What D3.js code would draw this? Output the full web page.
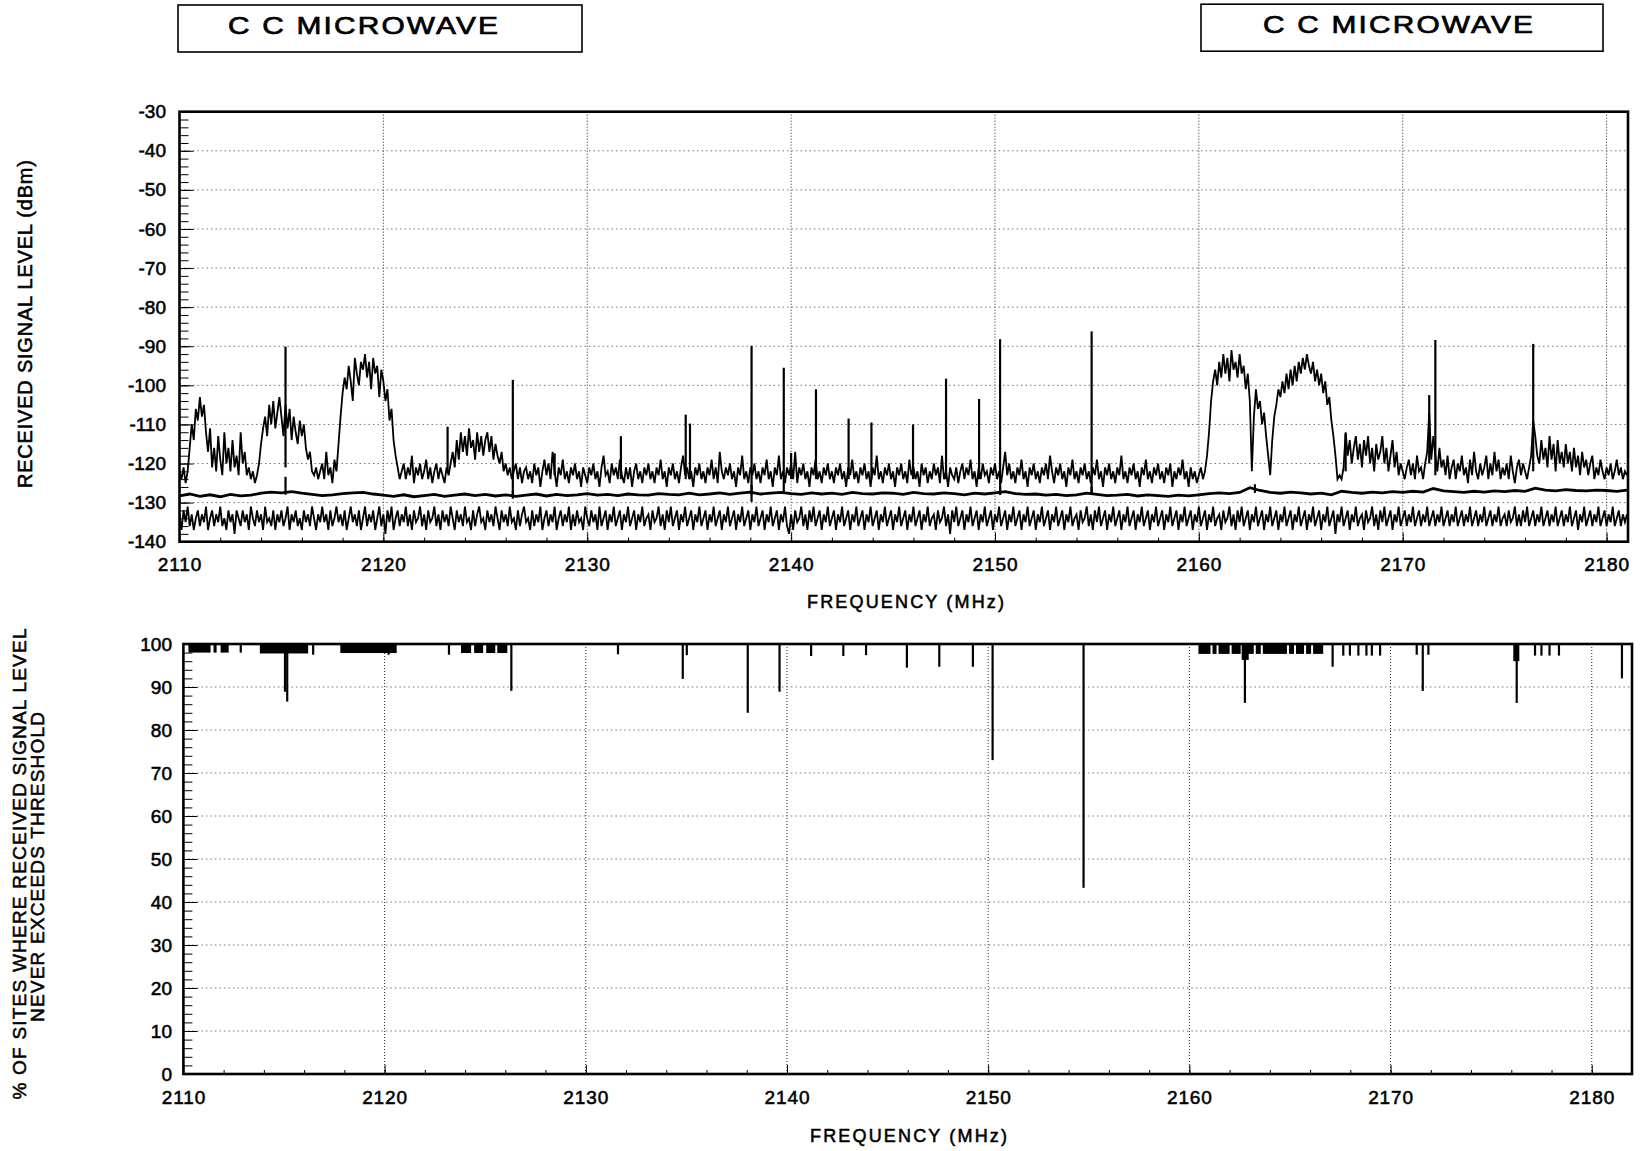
<!DOCTYPE html>
<html><head><meta charset="utf-8">
<script src="https://cdn.jsdelivr.net/npm/d3@7"></script>
<style>
body{margin:0;background:#fff}
svg text{font-family:"Liberation Sans",Arial,Helvetica,sans-serif;fill:#000;stroke:#000;stroke-width:0.55px}
</style></head>
<body><svg id="c" width="1643" height="1151" xmlns="http://www.w3.org/2000/svg"></svg>
<script>
// ---------------- DATA ----------------
const titleText = "C C MICROWAVE";
const freqTicks = [2110,2120,2130,2140,2150,2160,2170,2180];
const dbmTicks = [-30,-40,-50,-60,-70,-80,-90,-100,-110,-120,-130,-140];
const pctTicks = [0,10,20,30,40,50,60,70,80,90,100];

// upper (maximum) trace, dBm, from 2110.0 MHz every 0.1 MHz
const maxStart = 2110, maxStep = 0.1;
const maxTrace = [
-122,-124,-121,-125,-122,-116,-110,-114,-106,-109, // 2110
-103,-108,-105,-112,-117,-111,-121,-116,-122,-113, // 2111
-119,-123,-112,-120,-116,-122,-114,-121,-118,-123, // 2112
-112,-120,-117,-123,-121,-124,-122,-125,-123,-120, // 2113
-115,-111,-108,-113,-105,-110,-104,-111,-107,-103, // 2114
-108,-113,-105,-111,-106,-114,-108,-112,-115,-109, // 2115
-113,-110,-116,-119,-117,-122,-123,-121,-124,-122, // 2116
-120,-124,-117,-123,-121,-125,-119,-122,-115,-108, // 2117
-102,-98,-101,-95,-99,-104,-93,-97,-100,-94,       // 2118
-96,-92,-98,-94,-101,-93,-97,-95,-103,-96,         // 2119
-99,-104,-101,-109,-106,-114,-118,-121,-124,-122,  // 2120
-120,-124,-121,-123,-118,-125,-121,-123,-120,-124, // 2121
-122,-119,-124,-121,-125,-122,-120,-124,-121,-123, // 2122
-125,-121,-123,-120,-117,-121,-114,-119,-112,-117, // 2123
-113,-118,-111,-116,-114,-119,-112,-117,-113,-118, // 2124
-114,-112,-117,-113,-119,-115,-118,-120,-117,-122, // 2125
-120,-123,-121,-124,-122,-120,-124,-121,-125,-122, // 2126
-121,-124,-122,-125,-120,-123,-121,-126,-122,-119, // 2127
-123,-120,-124,-117,-122,-126,-121,-123,-119,-124, // 2128
-122,-125,-121,-123,-120,-124,-122,-126,-121,-123, // 2129
-125,-121,-123,-120,-124,-122,-126,-121,-118,-123, // 2130
-122,-125,-120,-123,-121,-124,-119,-123,-125,-121, // 2131
-124,-121,-126,-122,-120,-124,-122,-125,-121,-123, // 2132
-120,-124,-122,-125,-121,-123,-119,-124,-122,-126, // 2133
-121,-123,-120,-124,-122,-125,-121,-118,-123,-121, // 2134
-124,-122,-126,-121,-123,-120,-124,-122,-125,-121, // 2135
-123,-119,-124,-121,-125,-117,-122,-124,-121,-123, // 2136
-120,-124,-122,-126,-121,-123,-118,-124,-122,-125, // 2137
-121,-123,-120,-124,-122,-125,-121,-123,-119,-124, // 2138
-122,-126,-121,-123,-118,-124,-122,-125,-121,-123, // 2139
-120,-124,-117,-125,-121,-123,-120,-124,-122,-126, // 2140
-121,-123,-119,-124,-122,-125,-121,-123,-120,-124, // 2141
-122,-125,-121,-123,-120,-124,-122,-126,-121,-123, // 2142
-119,-124,-122,-125,-121,-123,-120,-124,-122,-126, // 2143
-121,-123,-118,-124,-122,-125,-121,-123,-120,-124, // 2144
-122,-126,-121,-123,-120,-124,-122,-125,-119,-123, // 2145
-121,-124,-122,-126,-120,-123,-121,-125,-122,-124, // 2146
-120,-123,-121,-125,-118,-124,-122,-126,-121,-123, // 2147
-124,-121,-125,-122,-120,-124,-121,-123,-119,-124, // 2148
-122,-126,-121,-124,-120,-123,-122,-125,-121,-123, // 2149
-120,-124,-122,-125,-121,-117,-123,-120,-124,-122, // 2150
-125,-121,-123,-119,-124,-122,-126,-121,-123,-120, // 2151
-124,-122,-125,-121,-123,-120,-124,-118,-122,-125, // 2152
-121,-123,-120,-124,-122,-126,-121,-123,-119,-124, // 2153
-122,-125,-121,-123,-120,-124,-122,-125,-121,-123, // 2154
-119,-124,-122,-126,-121,-123,-120,-124,-122,-125, // 2155
-121,-123,-118,-124,-122,-125,-121,-123,-120,-124, // 2156
-122,-126,-121,-123,-119,-124,-122,-125,-121,-123, // 2157
-120,-124,-122,-125,-121,-123,-120,-126,-122,-124, // 2158
-121,-123,-119,-124,-122,-126,-121,-124,-122,-125, // 2159
-123,-121,-124,-122,-118,-112,-104,-99,-96,-100,   // 2160
-94,-98,-92,-97,-93,-99,-91,-96,-94,-98,           // 2161
-92,-97,-95,-101,-97,-104,-122,-108,-101,-106,     // 2162
-104,-110,-107,-113,-118,-123,-114,-108,-105,-101, // 2163
-103,-99,-102,-97,-101,-96,-100,-95,-99,-94,       // 2164
-97,-93,-96,-92,-95,-97,-94,-99,-96,-100,          // 2165
-97,-102,-99,-105,-103,-109,-113,-118,-124,-123,   // 2166
-124,-121,-112,-118,-114,-120,-116,-113,-119,-115, // 2167
-121,-114,-118,-113,-120,-116,-122,-115,-119,-117, // 2168
-113,-120,-116,-122,-118,-114,-121,-117,-123,-120, // 2169
-122,-124,-121,-119,-123,-120,-124,-118,-122,-121, // 2170
-124,-120,-117,-107,-119,-113,-118,-122,-116,-121, // 2171
-119,-123,-118,-124,-121,-119,-124,-120,-122,-118, // 2172
-123,-121,-125,-119,-123,-117,-122,-124,-120,-123, // 2173
-121,-118,-124,-120,-123,-117,-122,-119,-124,-121, // 2174
-123,-120,-124,-118,-122,-125,-121,-119,-123,-120, // 2175
-122,-124,-121,-118,-109,-113,-118,-120,-114,-119, // 2176
-116,-121,-113,-119,-115,-122,-114,-120,-117,-121, // 2177
-115,-120,-117,-122,-116,-121,-118,-123,-117,-121, // 2178
-119,-123,-120,-118,-124,-121,-123,-119,-122,-124, // 2179
-121,-123,-120,-124,-122,-119,-123,-121,-124,-122, // 2180
-123                                               // 2181
];
// narrow spikes on the upper trace: [MHz, peak dBm, foot dBm]
const maxSpikes = [
[2115.2,-90.1,-121],[2123.15,-110.6,-122],[2126.35,-98.6,-128.5],[2128.4,-117.4,-123],
[2131.65,-113,-124],[2134.83,-107.5,-124],[2135.04,-109.8,-124],[2138.06,-89.9,-129.8],
[2139.64,-95.5,-127.5],[2140.0,-117.3,-124],[2141.22,-101,-124],[2142.82,-108.5,-124],
[2143.94,-109.5,-124],[2145.98,-110,-124],[2147.6,-98.3,-124],[2149.22,-103.5,-124],
[2150.25,-88.2,-128],[2154.74,-86.2,-127.5],[2167.2,-112.3,-122],[2171.3,-102.5,-120],
[2171.6,-88.4,-123],[2176.4,-89.4,-122]
];

// middle trace, every 0.5 MHz
const midStart = 2110, midStep = 0.5;
const midTrace = [
-128.3,-127.8, -128.4,-128.0, -128.5,-127.9, -128.3,-128.1, -127.6,-127.3, // 2110-2114
-127.5,-127.2, -127.6,-127.9, -128.2,-128.0, -127.7,-127.5, -127.4,-127.8, // 2115-2119
-128.1,-128.4, -128.0,-128.5, -128.2,-127.9, -128.4,-128.1, -127.8,-128.2, // 2120-2124
-127.9,-128.3, -128.0,-128.4, -128.1,-127.8, -128.3,-127.9, -128.2,-128.0, // 2125-2129
-127.7,-128.1, -127.9,-128.2, -127.8,-128.0, -128.1,-127.7, -127.9,-128.0, // 2130-2134
-127.6,-128.0, -127.8,-127.5, -127.9,-127.6, -127.3,-127.8, -127.6,-127.4, // 2135-2139
-127.7,-127.9, -127.5,-127.8, -127.6,-127.9, -127.4,-127.7, -127.8,-127.5, // 2140-2144
-127.6,-127.9, -127.4,-127.7, -127.8,-127.5, -127.7,-128.0, -127.6,-127.8, // 2145-2149
-127.5,-127.2, -127.7,-127.9, -127.8,-128.1, -127.9,-128.2, -128.0,-127.6, // 2150-2154
-127.9,-128.2, -128.1,-127.9, -128.3,-128.0, -128.2,-128.4, -128.1,-128.3, // 2155-2159
-128.0,-127.7, -127.5,-127.7, -127.4,-126.2, -126.9,-127.4, -127.6,-127.3, // 2160-2164
-127.5,-127.8, -127.6,-128.0, -127.1,-127.4, -127.6,-127.3, -127.5,-127.2, // 2165-2169
-127.4,-127.1, -127.3,-126.4, -127.0,-127.2, -127.4,-127.1, -127.3,-127.0, // 2170-2174
-127.2,-126.9, -127.1,-126.3, -126.8,-127.0, -126.7,-126.9, -127.0,-126.8, // 2175-2179
-126.9,-127.1, -126.8                                                     // 2180-2181
];
const midSpikes = [
[2115.2,-123.4,-128],[2126.35,-127,-129],[2138.06,-125.5,-128],[2150.25,-125.8,-128],
[2154.74,-126,-128],[2162.75,-125.3,-127.5]
];

// lower trace, every 0.1 MHz
const minStart = 2110, minStep = 0.1;
const minTrace = [
-133,-137,-132,-135,-131,-136,-133,-137,-134,-132, // 2110
-136,-133,-135,-131,-137,-134,-132,-136,-133,-135, // 2111
-131,-136,-134,-137,-132,-135,-133,-138,-132,-134, // 2112
-136,-132,-135,-133,-137,-131,-134,-136,-132,-135, // 2113
-133,-137,-131,-135,-134,-136,-132,-137,-133,-135, // 2114
-132,-136,-134,-131,-137,-133,-135,-132,-136,-134, // 2115
-137,-132,-135,-133,-136,-131,-134,-137,-133,-135, // 2116
-131,-135,-133,-137,-132,-136,-134,-131,-135,-133, // 2117
-136,-132,-137,-134,-131,-135,-133,-136,-132,-137, // 2118
-134,-131,-136,-133,-135,-132,-137,-134,-131,-136, // 2119
-133,-138,-132,-135,-131,-137,-134,-132,-136,-133, // 2120
-135,-131,-136,-133,-137,-132,-135,-134,-131,-136, // 2121
-133,-137,-132,-135,-134,-131,-136,-133,-137,-132, // 2122
-135,-133,-136,-131,-134,-137,-132,-135,-133,-136, // 2123
-131,-135,-134,-137,-132,-136,-133,-131,-135,-134, // 2124
-137,-132,-135,-133,-136,-131,-134,-137,-132,-135, // 2125
-133,-136,-131,-135,-134,-137,-132,-136,-133,-131, // 2126
-135,-134,-137,-132,-136,-133,-135,-131,-137,-134, // 2127
-132,-136,-133,-135,-131,-137,-134,-132,-136,-133, // 2128
-135,-131,-137,-133,-136,-132,-135,-134,-137,-131, // 2129
-134,-136,-132,-135,-133,-137,-131,-136,-134,-132, // 2130
-137,-133,-135,-131,-136,-134,-132,-137,-133,-135, // 2131
-131,-136,-134,-132,-137,-133,-135,-131,-136,-134, // 2132
-133,-137,-132,-135,-134,-131,-136,-133,-137,-132, // 2133
-135,-131,-136,-134,-132,-137,-133,-135,-131,-136, // 2134
-134,-132,-137,-133,-135,-131,-136,-134,-132,-137, // 2135
-133,-135,-131,-136,-134,-132,-137,-133,-135,-131, // 2136
-136,-134,-132,-137,-133,-135,-131,-136,-134,-132, // 2137
-137,-133,-135,-131,-136,-134,-132,-137,-133,-135, // 2138
-131,-136,-134,-132,-137,-133,-135,-131,-136,-138, // 2139
-133,-137,-132,-135,-134,-131,-136,-133,-137,-132, // 2140
-135,-131,-136,-134,-132,-137,-133,-135,-131,-136, // 2141
-134,-132,-137,-133,-135,-131,-136,-134,-132,-137, // 2142
-133,-135,-131,-136,-134,-132,-137,-133,-135,-131, // 2143
-136,-134,-132,-137,-133,-135,-131,-136,-134,-132, // 2144
-137,-133,-135,-131,-136,-134,-132,-137,-133,-135, // 2145
-131,-136,-134,-132,-137,-133,-135,-131,-136,-134, // 2146
-133,-137,-132,-135,-134,-131,-136,-133,-138,-132, // 2147
-135,-131,-136,-134,-132,-137,-133,-135,-131,-136, // 2148
-134,-132,-137,-133,-135,-131,-136,-134,-132,-137, // 2149
-133,-135,-131,-136,-134,-132,-137,-133,-135,-131, // 2150
-136,-134,-132,-137,-133,-135,-131,-136,-134,-132, // 2151
-137,-133,-135,-131,-136,-134,-132,-137,-133,-135, // 2152
-131,-136,-134,-132,-137,-133,-135,-131,-136,-134, // 2153
-133,-137,-132,-135,-134,-131,-136,-133,-137,-132, // 2154
-135,-131,-136,-134,-132,-137,-133,-135,-131,-136, // 2155
-134,-132,-137,-133,-135,-131,-136,-134,-132,-137, // 2156
-133,-135,-131,-136,-134,-132,-137,-133,-135,-131, // 2157
-136,-134,-132,-137,-133,-135,-131,-136,-134,-132, // 2158
-137,-133,-135,-131,-136,-134,-132,-137,-133,-135, // 2159
-131,-136,-134,-132,-137,-133,-135,-131,-136,-134, // 2160
-133,-137,-132,-135,-134,-131,-136,-133,-137,-132, // 2161
-135,-131,-136,-134,-132,-137,-133,-135,-131,-136, // 2162
-134,-132,-137,-133,-135,-131,-136,-134,-132,-137, // 2163
-133,-135,-131,-136,-134,-132,-137,-133,-135,-131, // 2164
-136,-134,-132,-137,-133,-135,-131,-136,-134,-132, // 2165
-137,-133,-135,-131,-136,-134,-132,-138,-133,-135, // 2166
-131,-136,-134,-132,-137,-133,-135,-131,-136,-134, // 2167
-133,-137,-132,-135,-134,-131,-136,-133,-137,-132, // 2168
-135,-131,-136,-134,-132,-137,-133,-135,-131,-136, // 2169
-134,-132,-136,-133,-135,-131,-136,-134,-132,-136, // 2170
-133,-135,-131,-136,-134,-132,-136,-133,-135,-131, // 2171
-136,-134,-132,-136,-133,-135,-131,-136,-134,-132, // 2172
-136,-133,-135,-131,-136,-134,-132,-136,-133,-135, // 2173
-131,-136,-134,-132,-136,-133,-135,-131,-136,-134, // 2174
-133,-136,-132,-135,-134,-131,-136,-133,-136,-132, // 2175
-135,-131,-136,-134,-132,-136,-133,-135,-131,-136, // 2176
-134,-132,-136,-133,-135,-131,-136,-134,-132,-136, // 2177
-133,-135,-131,-136,-134,-132,-137,-133,-135,-131, // 2178
-136,-134,-132,-136,-133,-135,-131,-136,-134,-132, // 2179
-136,-133,-135,-131,-136,-134,-132,-136,-133,-135, // 2180
-133                                               // 2181
];

// lower chart: % of sites never exceeding threshold
// dense clusters: [from MHz, to MHz, %]
const pctBlocks = [
[2110.25,2111.35,98],[2111.5,2111.65,98],[2111.85,2112.25,98],
[2113.8,2116.2,97.8],[2117.8,2120.6,97.9],
[2123.8,2124.3,97.9],[2124.45,2124.9,97.9],[2125.05,2125.5,97.9],[2125.6,2126.1,97.9],
[2160.45,2161.05,97.7],[2161.15,2161.35,97.7],[2161.45,2162.0,97.7],[2162.1,2162.55,97.7],
[2162.65,2163.2,97.7],[2163.3,2163.55,97.7],[2163.65,2164.85,97.7],[2164.95,2165.2,97.7],
[2165.3,2165.7,97.7],[2165.8,2166.05,97.7],[2166.15,2166.65,97.7],
[2162.6,2162.95,96.3],[2176.1,2176.4,96]
];
// single lines: [MHz, %]
const pctBars = [
[2112.85,98],[2115.05,88.9],[2115.16,86.6],[2116.45,97.5],[2120.2,97.5],[2123.2,97.5],
[2126.3,89.1],[2131.6,97.6],[2134.82,91.9],[2135.02,97.4],[2138.05,84],[2139.63,88.9],
[2141.2,97.2],[2142.8,97.2],[2143.93,97.4],[2145.96,94.5],[2147.57,94.7],[2149.24,94.7],
[2150.22,73],[2154.74,43.3],[2162.76,86.3],[2167.12,94.7],[2167.65,97.3],[2167.98,97.3],
[2168.4,97.3],[2168.8,97.3],[2169.07,97.3],[2169.48,97.3],[2171.3,97.5],[2171.6,89.1],
[2171.88,97.5],[2176.27,86.3],[2177.18,97.3],[2177.5,97.3],[2177.9,97.3],[2178.37,97.3],
[2181.5,92]
];

// ---------------- DRAWING ----------------
const svg = d3.select("#c");
const xTop = d3.scaleLinear([2110, 2181.05], [179.5, 1628]);
const yTop = d3.scaleLinear([-140, -30], [541.7, 111.7]);
const xBot = d3.scaleLinear([2110, 2182], [183.4, 1632]);
const yBot = d3.scaleLinear([0, 100], [1074, 644]);

const pts = (arr, start, step) => arr.map((v, i) => [start + i * step, v]);

// title boxes
[[178, 5, 404, 47, 228, 34], [1201, 4.2, 402, 47, 1263, 33.3]].forEach(([bx, by, bw, bh, tx, ty]) => {
  svg.append("rect").attr("x", bx).attr("y", by).attr("width", bw).attr("height", bh)
    .attr("fill", "none").attr("stroke", "#000").attr("stroke-width", 1.6);
  svg.append("text").attr("transform", `translate(${tx},${ty}) scale(1.22,1)`)
    .attr("textLength", 270 / 1.22).attr("lengthAdjust", "spacing")
    .style("font-size", "24.5px").style("stroke-width", "0.7px").text(titleText);
});

function frame(x, y, xDom, yTicks, yMinor) {
  const x0 = x.range()[0], x1 = x.range()[1], y0 = y.range()[1], y1 = y.range()[0];
  const g = svg.append("g");
  g.selectAll("line.vg").data(freqTicks.filter(f => f > 2110)).join("line").attr("class", "vg")
    .attr("x1", d => x(d)).attr("x2", d => x(d)).attr("y1", y0).attr("y2", y1)
    .attr("stroke", "#222").attr("stroke-width", 1).attr("stroke-dasharray", "1 2");
  g.selectAll("line.hg").data(yTicks.slice(1, -1)).join("line").attr("class", "hg")
    .attr("x1", x0).attr("x2", x1).attr("y1", d => y(d)).attr("y2", d => y(d))
    .attr("stroke", "#777").attr("stroke-width", 1).attr("stroke-dasharray", "1.5 3");
  g.append("g").attr("transform", `translate(${x0},0)`)
    .call(d3.axisRight(y).tickValues(yMinor).tickSize(9).tickFormat(""))
    .call(a => a.select(".domain").remove());
  g.append("g").attr("transform", `translate(${x0},0)`)
    .call(d3.axisRight(y).tickValues(yTicks).tickSize(14).tickFormat(""))
    .call(a => a.select(".domain").remove());
  g.append("g").attr("transform", `translate(0,${y1})`)
    .call(d3.axisTop(x).tickValues(d3.range(2112, xDom, 2)).tickSize(4).tickFormat(""))
    .call(a => a.select(".domain").remove());
  g.append("g").attr("transform", `translate(0,${y1})`)
    .call(d3.axisTop(x).tickValues(freqTicks).tickSize(9).tickFormat(""))
    .call(a => a.select(".domain").remove());
}
frame(xTop, yTop, 2181, dbmTicks.slice().reverse(), d3.range(-138, -30, 2));
frame(xBot, yBot, 2182, pctTicks, d3.range(2, 100, 2));

svg.append("clipPath").attr("id", "clipTop").append("rect")
  .attr("x", xTop.range()[0]).attr("y", yTop.range()[1])
  .attr("width", xTop.range()[1] - xTop.range()[0]).attr("height", yTop.range()[0] - yTop.range()[1]);

const lineTop = d3.line().x(d => xTop(d[0])).y(d => yTop(d[1]));
const gTr = svg.append("g").attr("clip-path", "url(#clipTop)");
gTr.append("path").datum(pts(minTrace, minStart, minStep)).attr("d", lineTop)
  .attr("fill", "none").attr("stroke", "#000").attr("stroke-width", 1.8);
gTr.append("path").datum(pts(midTrace, midStart, midStep)).attr("d", lineTop)
  .attr("fill", "none").attr("stroke", "#000").attr("stroke-width", 2.8);
gTr.append("path").datum(pts(maxTrace, maxStart, maxStep)).attr("d", lineTop)
  .attr("fill", "none").attr("stroke", "#000").attr("stroke-width", 1.8);
gTr.selectAll("line.sp").data(maxSpikes.concat(midSpikes)).join("line").attr("class", "sp")
  .attr("x1", d => xTop(d[0])).attr("x2", d => xTop(d[0]))
  .attr("y1", d => yTop(d[1])).attr("y2", d => yTop(d[2]))
  .attr("stroke", "#000").attr("stroke-width", 2.2);

const gB = svg.append("g");
gB.selectAll("rect.blk").data(pctBlocks).join("rect").attr("class", "blk")
  .attr("x", d => xBot(d[0])).attr("width", d => xBot(d[1]) - xBot(d[0]))
  .attr("y", yBot(100)).attr("height", d => yBot(d[2]) - yBot(100)).attr("fill", "#000");
gB.selectAll("line.bar").data(pctBars).join("line").attr("class", "bar")
  .attr("x1", d => xBot(d[0])).attr("x2", d => xBot(d[0]))
  .attr("y1", yBot(100)).attr("y2", d => yBot(d[1]))
  .attr("stroke", "#000").attr("stroke-width", 2.2);

[[xTop, yTop], [xBot, yBot]].forEach(([x, y]) => {
  svg.append("rect").attr("x", x.range()[0]).attr("y", y.range()[1])
    .attr("width", x.range()[1] - x.range()[0]).attr("height", y.range()[0] - y.range()[1])
    .attr("fill", "none").attr("stroke", "#000").attr("stroke-width", 2.6);
});

function labels(sel, size, ls) {
  sel.call(a => a.select(".domain").remove()).attr("font-family", null).attr("font-size", null);
  sel.selectAll("text").style("font-size", size + "px").style("letter-spacing", ls + "px");
  sel.selectAll(".tick line").remove();
}
svg.append("g").attr("transform", `translate(${xTop(2110)},0)`)
  .call(d3.axisLeft(yTop).tickValues(dbmTicks).tickSize(0).tickPadding(13.5).tickFormat(d => String(d)))
  .call(s => labels(s, 19, 0));
svg.append("g").attr("transform", `translate(0,${yTop(-140)})`)
  .call(d3.axisBottom(xTop).tickValues(freqTicks).tickSize(0).tickPadding(15.5).tickFormat(d => String(d)))
  .call(s => labels(s, 19, 0.9));
svg.append("g").attr("transform", `translate(${xBot(2110)},0)`)
  .call(d3.axisLeft(yBot).tickValues(pctTicks).tickSize(0).tickPadding(11.4).tickFormat(d => String(d)))
  .call(s => labels(s, 19, 0));
svg.append("g").attr("transform", `translate(0,${yBot(0)})`)
  .call(d3.axisBottom(xBot).tickValues(freqTicks).tickSize(0).tickPadding(17).tickFormat(d => String(d)))
  .call(s => labels(s, 19, 0.9));

function title(x, y, rot, txt, len, size) {
  svg.append("text").attr("transform", `translate(${x},${y}) rotate(${rot})`)
    .attr("text-anchor", "middle").attr("textLength", len).attr("lengthAdjust", "spacing")
    .style("font-size", size + "px").text(txt);
}
title(905.5, 608, 0, "FREQUENCY (MHz)", 197, 18);
title(908.5, 1141.5, 0, "FREQUENCY (MHz)", 197, 18);
title(32, 324, -90, "RECEIVED SIGNAL LEVEL (dBm)", 328, 20);
title(25.5, 864, -90, "% OF SITES WHERE RECEIVED SIGNAL  LEVEL", 471, 19);
title(43.5, 867, -90, "NEVER EXCEEDS THRESHOLD", 310, 19);
</script></body></html>
